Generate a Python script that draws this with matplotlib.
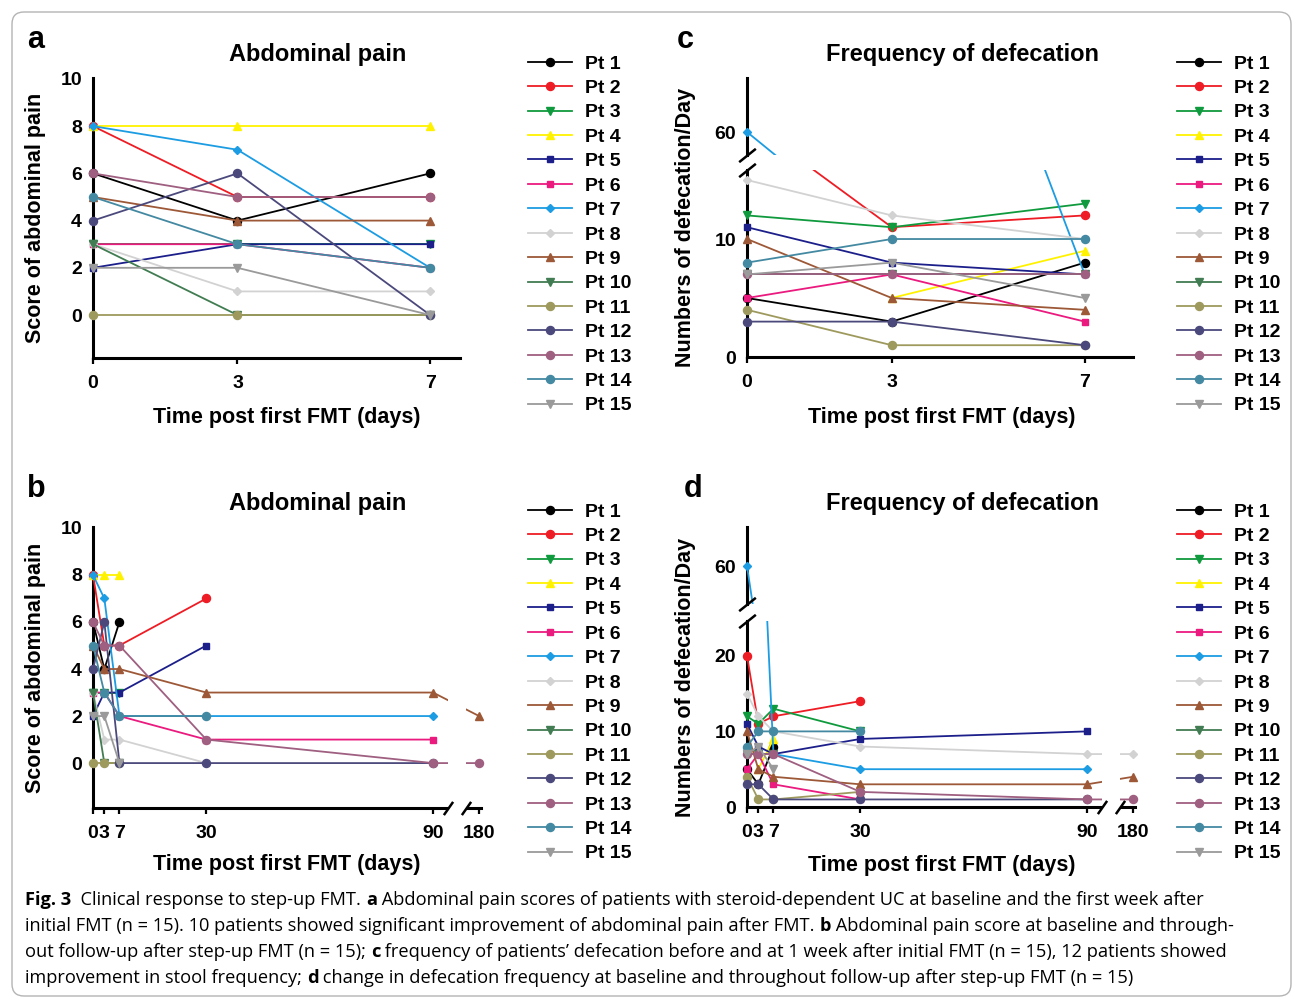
"""Clinical response to step-up FMT: abdominal pain and defecation frequency."""

import matplotlib

matplotlib.use("Agg")
import matplotlib.pyplot as plt
import numpy as np
from matplotlib.patches import FancyBboxPatch, Rectangle
from matplotlib.transforms import (Bbox, IdentityTransform, TransformedBbox,
                                   blended_transform_factory)

W, H, DPI = 1293, 997, 100
plt.rcParams["font.family"] = ["Liberation Sans", "DejaVu Sans"]
plt.rcParams["font.weight"] = "bold"

nan = np.nan

# ---- data -----------------------------------------------------------------
patients = [f"Pt {i}" for i in range(1, 16)]
days = [0, 3, 7, 30, 90, 180]
n_week = 3  # first three time points: 0, 3, 7 days

pain_scores = [
    [6, 4, 6, nan, nan, nan],
    [8, 5, 5, 7, nan, nan],
    [3, 3, 3, nan, nan, nan],
    [8, 8, 8, nan, nan, nan],
    [2, 3, 3, 5, nan, nan],
    [3, 3, 2, 1, 1, nan],
    [8, 7, 2, 2, 2, nan],
    [3, 1, 1, 0, nan, nan],
    [5, 4, 4, 3, 3, 2],
    [3, 0, 0, nan, nan, nan],
    [0, 0, 0, nan, nan, nan],
    [4, 6, 0, 0, 0, nan],
    [6, 5, 5, 1, 0, 0],
    [5, 3, 2, 2, nan, nan],
    [2, 2, 0, nan, nan, nan],
]

stool_freq = [
    [5, 3, 8, nan, nan, nan],
    [20, 11, 12, 14, nan, nan],
    [12, 11, 13, 10, nan, nan],
    [nan, 5, 9, nan, nan, nan],
    [11, 8, 7, 9, 10, nan],
    [5, 7, 3, 1, nan, nan],
    [60, 50, 7, 5, 5, nan],
    [15, 12, 10, 8, 7, 7],
    [10, 5, 4, 3, 3, 4],
    [7, 7, 7, nan, nan, nan],
    [4, 1, 1, 2, nan, nan],
    [3, 3, 1, 1, 1, nan],
    [7, 7, 7, 2, 1, 1],
    [8, 10, 10, 10, nan, nan],
    [7, 8, 5, nan, nan, nan],
]

colors = [
    "#000000", "#ee1c24", "#109a3e", "#fff200", "#1c1f8a",
    "#ea1a7f", "#1c9ce2", "#d2d2d2", "#9d5837", "#417c52",
    "#9e9a5e", "#4b497c", "#9f5f80", "#4489a2", "#9a9a9a",
]
markers = ["o", "o", "v", "^", "s", "s", "D", "D", "^", "v", "o", "o", "o", "o", "v"]
marker_sizes = [5.8, 5.8, 6, 6, 5, 5, 4.2, 4.2, 6, 6, 5.8, 5.8, 5.8, 5.8, 6]

caption_lines = [
    [("Fig. 3", True), ("  Clinical response to step-up FMT. ", False), ("a", True),
     (" Abdominal pain scores of patients with steroid-dependent UC at baseline and the first week after", False)],
    [("initial FMT (n = 15). 10 patients showed significant improvement of abdominal pain after FMT. ", False),
     ("b", True), (" Abdominal pain score at baseline and through-", False)],
    [("out follow-up after step-up FMT (n = 15); ", False), ("c", True),
     (" frequency of patients\u2019 defecation before and at 1 week after initial FMT (n = 15), 12 patients showed", False)],
    [("improvement in stool frequency; ", False), ("d", True),
     (" change in defecation frequency at baseline and throughout follow-up after step-up FMT (n = 15)", False)],
]

GAP = (94.0, 98.6)  # hidden stretch of the long-term axis between 90 and 180 days


def xpos(d):
    d = np.asarray(d, dtype=float)
    return np.where(d > 90, 90 + (d - 90) * 12.2 / 90, d)


fig = plt.figure(figsize=(W / DPI, H / DPI), dpi=DPI)


def axes_px(left, top, right, bottom):
    return fig.add_axes([left / W, 1 - bottom / H, (right - left) / W, (bottom - top) / H])


def style(ax, bottom=True):
    for side in ("top", "right"):
        ax.spines[side].set_visible(False)
    ax.spines["left"].set_linewidth(2.2)
    ax.spines["bottom"].set_linewidth(2.2)
    ax.spines["bottom"].set_visible(bottom)
    ax.tick_params(axis="x", direction="out", length=4, width=1.6, pad=8, labelsize=14)
    ax.tick_params(axis="y", length=0, pad=8, labelsize=14)
    ax.set_facecolor("none")


def draw(ax, x, table):
    # clip only vertically (for the axis breaks); markers at day 0 stay whole
    clip = TransformedBbox(Bbox([[-0.04, 0], [1.04, 1]]), ax.transAxes)
    lines = []
    for vals, c, m, ms in zip(table, colors, markers, marker_sizes):
        ln, = ax.plot(x, vals[:len(x)], color=c, marker=m, ms=ms, mfc=c, mec=c, lw=1.3,
                      zorder=3)
        ln.set_clip_box(clip)
        lines.append(ln)
    return lines


def y_break(ax_lo, ax_hi):
    kw = dict(marker=[(-1, -0.8), (1, 0.8)], ms=12, mew=1.8, color="k", mec="k",
              ls="none", clip_on=False, zorder=5)
    ax_lo.plot([0], [1], transform=ax_lo.transAxes, **kw)
    ax_hi.plot([0], [0], transform=ax_hi.transAxes, **kw)


def x_break(ax):
    tr = blended_transform_factory(ax.transData, ax.transAxes)
    ax.add_patch(Rectangle((GAP[0], -0.04), GAP[1] - GAP[0], 1.05, transform=tr,
                           facecolor="white", edgecolor="none", zorder=4, clip_on=False))
    ax.plot(GAP, [0, 0], transform=tr, marker=[(-0.7, -1), (0.7, 1)], ms=9.5, mew=1.8,
            color="k", mec="k", ls="none", clip_on=False, zorder=5)


def legend(handles, left, top):
    fig.legend(handles, patients, loc="upper left", bbox_to_anchor=(left / W, 1 - top / H),
               frameon=False, borderpad=0, borderaxespad=0, handlelength=2.27,
               handletextpad=0.65, labelspacing=0.35, prop=dict(weight="bold", size=14))


def label(x, y, s, **kw):
    fig.text(x / W, 1 - y / H, s, **kw)


# ---- panel a --------------------------------------------------------------
ax_a = axes_px(93, 78, 460, 358)
handles = draw(ax_a, days[:n_week], pain_scores)
ax_a.set_xlim(0, 7.62)
ax_a.set_ylim(-1.82, 10.04)
ax_a.set_xticks(days[:n_week])
ax_a.set_yticks(range(0, 11, 2))
style(ax_a)

# ---- panel b --------------------------------------------------------------
ax_b = axes_px(93, 527, 481, 808)
draw(ax_b, xpos(days), pain_scores)
ax_b.set_xlim(0, 102.7)
ax_b.set_ylim(-1.91, 10.04)
ax_b.set_xticks(xpos(days), [str(d) for d in days])
ax_b.set_yticks(range(0, 11, 2))
style(ax_b)
x_break(ax_b)

# ---- panel c --------------------------------------------------------------
ax_c = axes_px(747, 170, 1133, 357)
ax_c_hi = axes_px(747, 78, 1133, 155)
for ax in (ax_c, ax_c_hi):
    draw(ax, days[:n_week], stool_freq)
    ax.set_xlim(0, 8.0)
ax_c.set_ylim(0, 15.85)
ax_c_hi.set_ylim(58.05, 64.58)
ax_c.set_xticks(days[:n_week])
ax_c.set_yticks([0, 10])
ax_c_hi.set_xticks([])
ax_c_hi.set_yticks([60])
style(ax_c)
style(ax_c_hi, bottom=False)
y_break(ax_c, ax_c_hi)

# ---- panel d --------------------------------------------------------------
ax_d = axes_px(747, 621, 1135, 807)
ax_d_hi = axes_px(747, 527, 1135, 604)
for ax in (ax_d, ax_d_hi):
    draw(ax, xpos(days), stool_freq)
    ax.set_xlim(0, 102.7)
ax_d.set_ylim(0, 24.6)
ax_d_hi.set_ylim(54.97, 65.17)
ax_d.set_xticks(xpos(days), [str(d) for d in days])
ax_d.set_yticks([0, 10, 20])
ax_d_hi.set_xticks([])
ax_d_hi.set_yticks([60])
style(ax_d)
style(ax_d_hi, bottom=False)
y_break(ax_d, ax_d_hi)
x_break(ax_d)

# ---- legends, titles, labels ---------------------------------------------
legend(handles, 528, 55)
legend(handles, 528, 503)
legend(handles, 1177, 55)
legend(handles, 1177, 503)

for x, y, s in [(27, 48, "a"), (677, 48, "c"), (27, 497, "b"), (684, 497, "d")]:
    label(x, y, s, fontsize=22, ha="left", va="baseline")
for x, y, s in [(318, 61, "Abdominal pain"), (963, 61, "Frequency of defecation"),
                (318, 510, "Abdominal pain"), (963, 510, "Frequency of defecation")]:
    label(x, y, s, fontsize=17, ha="center", va="baseline")
for x, y in [(287, 423), (942, 423), (287, 870), (942, 871)]:
    label(x, y, "Time post first FMT (days)", fontsize=15.5, ha="center", va="baseline")
for x, y, s in [(36, 218, "Score of abdominal pain"), (686, 227, "Numbers of defecation/Day"),
                (36, 668, "Score of abdominal pain"), (686, 677, "Numbers of defecation/Day")]:
    label(x, y, s, fontsize=15.5, ha="center", va="center", rotation=90)

# ---- caption --------------------------------------------------------------
renderer = fig.canvas.get_renderer()
cap_family = ["Open Sans", "Noto Sans", "DejaVu Sans"]


def run_width(txt, bold, size):
    kw = dict(family=cap_family, fontsize=size, fontweight="bold" if bold else "normal")
    t1 = fig.text(0, 0, txt + "|", **kw)
    t2 = fig.text(0, 0, "|", **kw)
    w = t1.get_window_extent(renderer).width - t2.get_window_extent(renderer).width
    t1.remove()
    t2.remove()
    return w


size = 14.0
first = sum(run_width(t, b, size) for t, b in caption_lines[0])
size *= 1185 / first

for row, runs in enumerate(caption_lines):
    x = 25.0
    for txt, bold in runs:
        label(x, 905 + 26 * row, txt, family=cap_family, fontsize=size,
              fontweight="bold" if bold else "normal", ha="left", va="baseline")
        x += run_width(txt, bold, size)

# rounded frame around the whole figure (display pixels, origin bottom-left)
fig.patches.append(FancyBboxPatch((12, 1), 1279, 984, boxstyle="round,pad=0,rounding_size=12",
                                  transform=IdentityTransform(), facecolor="none",
                                  edgecolor="#b4b4b4", lw=1.0, figure=fig))

fig.savefig("out.png", dpi=DPI)
